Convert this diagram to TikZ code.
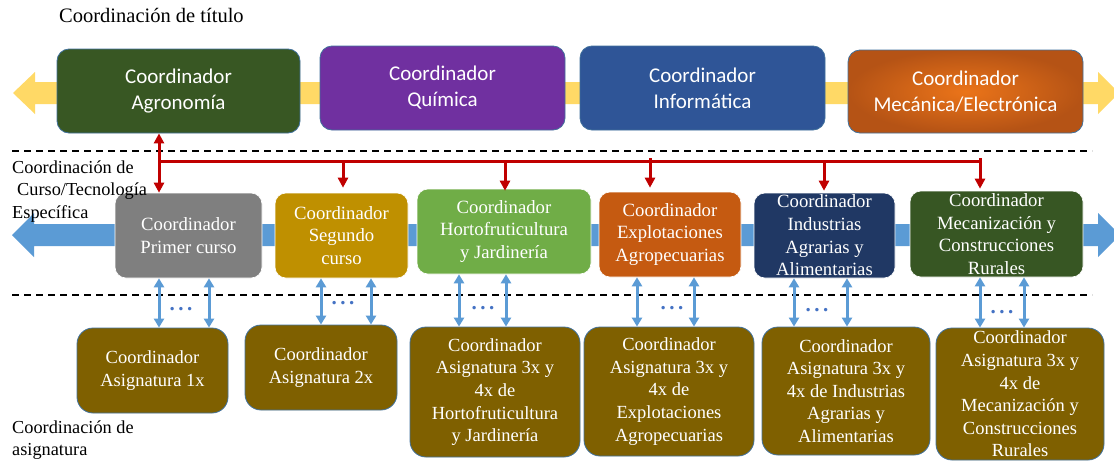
\documentclass[tikz,border=0pt]{standalone}
\usepackage{fontspec}
\setmainfont{Liberation Serif}
\newfontfamily\calfont{Carlito}
\usetikzlibrary{arrows.meta,calc}
\definecolor{yel}{HTML}{FFD966}
\definecolor{bigblue}{HTML}{5B9BD5}
\definecolor{agrgreen}{HTML}{385723}
\definecolor{quipurple}{HTML}{7030A0}
\definecolor{infblue}{HTML}{2F5597}
\definecolor{mecin}{HTML}{EB7419}
\definecolor{mecout}{HTML}{B55315}
\definecolor{prigray}{HTML}{7F7F7F}
\definecolor{seggold}{HTML}{BF9000}
\definecolor{horgreen}{HTML}{70AD47}
\definecolor{exporange}{HTML}{C55A11}
\definecolor{indnavy}{HTML}{203864}
\definecolor{mcrgreen}{HTML}{375623}
\definecolor{botbrown}{HTML}{7F6000}
\definecolor{edgeblue}{HTML}{41719C}
\definecolor{redc}{HTML}{C00000}
\definecolor{dotblue}{HTML}{4472C4}
\newcommand{\threedots}{.\hspace{3.5pt}.\hspace{3.5pt}.}
\begin{document}
\begin{tikzpicture}[x=1pt,y=-1pt,
  topbox/.style={rounded corners=12pt, minimum height=84pt, inner sep=0pt, align=center,
    text=white, draw=edgeblue, line width=0.8pt, font={\calfont\fontsize{21}{26}\selectfont}},
  midbox/.style={rounded corners=11pt, minimum height=85pt, inner sep=0pt, align=center,
    text=white, draw=white, line width=0.6pt, font={\fontsize{18.7}{22.7}\selectfont}},
  botbox/.style={rounded corners=16pt, inner sep=0pt, align=center, fill=botbrown,
    text=white, draw=edgeblue, line width=0.8pt, font={\fontsize{18.5}{22.6}\selectfont}},
  lbl/.style={inner sep=0pt, align=left, font={\fontsize{18.3}{22.5}\selectfont}},
  redline/.style={draw=redc, line width=3pt},
  redarr/.style={draw=redc, line width=3pt, -{Triangle[width=10pt,length=10pt]}},
  redboth/.style={draw=redc, line width=3pt, {Triangle[width=10pt,length=10pt]}-{Triangle[width=10pt,length=10pt]}},
  bluearr/.style={draw=bigblue, line width=3pt, {Triangle[width=10pt,length=9pt]}-{Triangle[width=10pt,length=9pt]}},
  dashline/.style={draw=black, line width=1.8pt, dash pattern=on 7pt off 5pt},
  dotsnode/.style={inner sep=0pt, text=dotblue, font={\bfseries\fontsize{21}{21}\selectfont}}
]
\useasboundingbox (0,0) rectangle (1114,461);
\fill[white] (0,0) rectangle (1114,461);

% big block arrows
\fill[yel] (13,93) -- (35,72) -- (35,82) -- (1098,82) -- (1098,72) -- (1119,93)
  -- (1098,114) -- (1098,104) -- (35,104) -- (35,114) -- cycle;
\fill[bigblue] (12,235) -- (34,213) -- (34,224) -- (1098,224) -- (1098,213) -- (1120,235)
  -- (1098,257) -- (1098,246) -- (34,246) -- (34,257) -- cycle;

% dashed separators
\coordinate (dl1) at (12,151);
\coordinate (dr1) at (1092,151);
\coordinate (dl2) at (12,295);
\coordinate (dr2) at (1092,295);
\draw[dashline] (dl1) -- (dr1);
\draw[dashline] (dl2) -- (dr2);

% top row
\node[topbox, fill=agrgreen, minimum width=243pt] (agr) at (178.5,91) {Coordinador\\Agronomía};
\node[topbox, fill=quipurple, minimum width=245pt] (qui) at (442.5,88) {Coordinador\\Química};
\node[topbox, fill=infblue, minimum width=245pt] (inf) at (702.5,88) {Coordinador\\Informática};
\node[topbox, inner color=mecin, outer color=mecout, minimum width=235pt, minimum height=83pt] (mec) at (965.5,91.5) {Coordinador\\Mecánica/Electrónica};

% middle row
\node[midbox, fill=prigray, minimum width=147pt] (pri) at (188.5,235.5) {Coordinador\\Primer curso};
\node[midbox, fill=seggold, minimum width=133pt] (seg) at (341.5,235.5) {Coordinador\\Segundo\\curso};
\node[midbox, fill=horgreen, minimum width=174pt] (hor) at (504,231.5) {Coordinador\\Hortofruticultura\\y Jardinería};
\node[midbox, fill=exporange, minimum width=142pt] (exp) at (670,234.5) {Coordinador\\Explotaciones\\Agropecuarias};
\node[midbox, fill=indnavy, minimum width=141pt] (ind) at (824.5,235.5) {Coordinador\\Industrias\\Agrarias y\\Alimentarias};
\node[midbox, fill=mcrgreen, minimum width=173pt, minimum height=86pt] (mcr) at (996.5,234) {Coordinador\\Mecanización y\\Construcciones\\Rurales};

% bottom row
\node[botbox, minimum width=151pt, minimum height=85pt] (a1) at (152.5,370.5) {Coordinador\\Asignatura 1x};
\node[botbox, minimum width=152pt, minimum height=85pt] (a2) at (321,367.5) {Coordinador\\Asignatura 2x};
\node[botbox, minimum width=170pt, minimum height=130pt] (a3) at (495,392) {Coordinador\\Asignatura 3x y\\4x de\\Hortofruticultura\\y Jardinería};
\node[botbox, minimum width=170pt, minimum height=129pt] (a4) at (669,391.5) {Coordinador\\Asignatura 3x y\\4x de\\Explotaciones\\Agropecuarias};
\node[botbox, minimum width=168pt, minimum height=128pt] (a5) at (846,391) {Coordinador\\Asignatura 3x y\\4x de Industrias\\Agrarias y\\Alimentarias};
\node[botbox, minimum width=168pt, minimum height=132pt] (a6) at (1020,394) {Coordinador\\Asignatura 3x y\\4x de\\Mecanización y\\Construcciones\\Rurales};

% red connectors
\coordinate (r0) at (159,161);
\coordinate (r1) at (343,161);
\coordinate (r2) at (505,161);
\coordinate (r3) at (650,158);
\coordinate (r4) at (824,161);
\coordinate (r5) at (980,158);
\draw[redline] (r0) -- (r5 |- r0);
\draw[redboth] (r0 |- agr.south) -- (r0 |- pri.north);
\draw[redarr] (r1) -- ($(r1 |- seg.north)+(0,-5)$);
\draw[redarr] (r2) -- ($(r2 |- hor.north)+(0,2)$);
\draw[redarr] (r3) -- ($(r3 |- exp.north)+(0,-4)$);
\draw[redarr] (r4) -- ($(r4 |- ind.north)+(0,-2)$);
\draw[redarr] (r5) -- ($(r5 |- mcr.north)+(0,-2)$);

% blue connectors
\coordinate (b1) at (159,0);  \coordinate (b2) at (209,0);
\coordinate (b3) at (321,0);  \coordinate (b4) at (371,0);
\coordinate (b5) at (459,0);  \coordinate (b6) at (506,0);
\coordinate (b7) at (637,0);  \coordinate (b8) at (694,0);
\coordinate (b9) at (794,0);  \coordinate (b10) at (847,0);
\coordinate (b11) at (980,0); \coordinate (b12) at (1024,0);
\draw[bluearr] (b1 |- pri.south) -- (b1 |- a1.north);
\draw[bluearr] (b2 |- pri.south) -- (b2 |- a1.north);
\draw[bluearr] (b3 |- seg.south) -- (b3 |- a2.north);
\draw[bluearr] (b4 |- seg.south) -- (b4 |- a2.north);
\draw[bluearr] (b5 |- hor.south) -- (b5 |- a3.north);
\draw[bluearr] (b6 |- hor.south) -- (b6 |- a3.north);
\draw[bluearr] (b7 |- exp.south) -- (b7 |- a4.north);
\draw[bluearr] (b8 |- exp.south) -- (b8 |- a4.north);
\draw[bluearr] (b9 |- ind.south) -- (b9 |- a5.north);
\draw[bluearr] (b10 |- ind.south) -- (b10 |- a5.north);
\draw[bluearr] (b11 |- mcr.south) -- (b11 |- a6.north);
\draw[bluearr] (b12 |- mcr.south) -- (b12 |- a6.north);

% dots
\node[dotsnode] (d1) at (181,309) {\threedots};
\node[dotsnode] (d2) at (343,303) {\threedots};
\node[dotsnode] (d3) at (483,308) {\threedots};
\node[dotsnode] (d4) at (672,308) {\threedots};
\node[dotsnode] (d5) at (817,310) {\threedots};
\node[dotsnode] (d6) at (1002,312) {\threedots};

% level labels
\node[inner sep=0pt, anchor=base west, font={\fontsize{20.5}{24}\selectfont}] (t1) at (59,22.7) {Coordinación de título};
\node[lbl, anchor=north west] (t2) at (12,160.5) {Coordinación de\\\hspace{5pt}Curso/Tecnología\\Específica};
\node[lbl, anchor=north west] (t3) at (12,420.4) {Coordinación de\\asignatura};
\end{tikzpicture}
\end{document}
